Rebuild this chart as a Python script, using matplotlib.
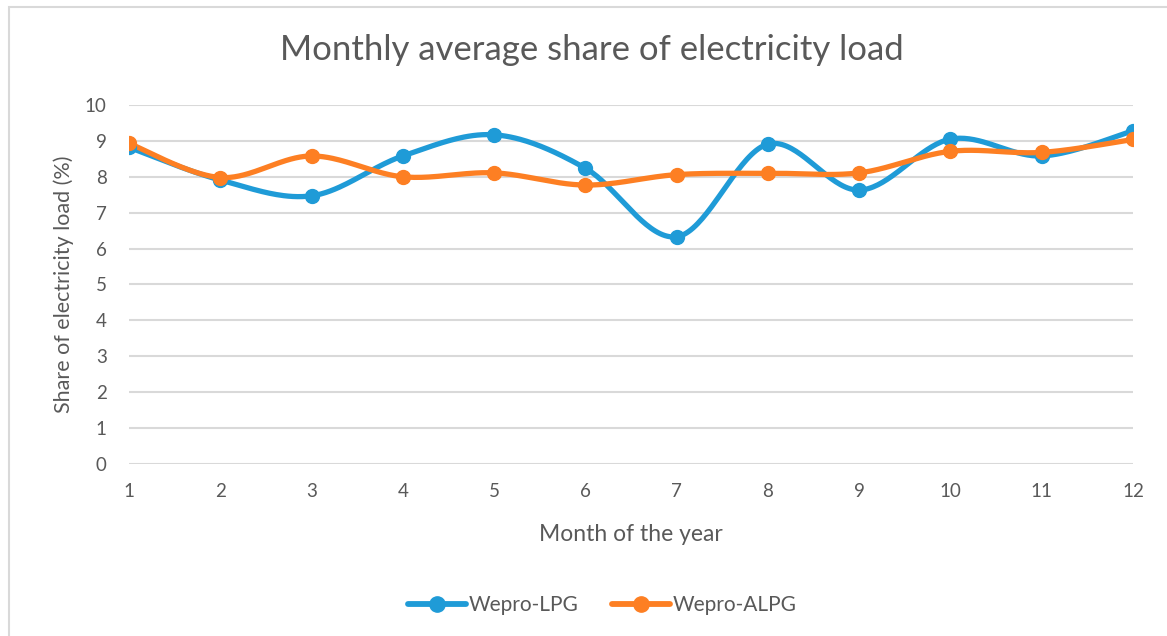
import matplotlib.pyplot as plt
from matplotlib.patches import Rectangle
import numpy as np

months = [1, 2, 3, 4, 5, 6, 7, 8, 9, 10, 11, 12]
lpg = [8.82, 7.91, 7.47, 8.58, 9.17, 8.24, 6.33, 8.91, 7.63, 9.05, 8.58, 9.28]
alpg = [8.93, 7.98, 8.58, 8.00, 8.11, 7.77, 8.06, 8.10, 8.11, 8.71, 8.68, 9.04]

BLUE = '#1f9bd7'
ORANGE = '#fd7f23'
GREY = '#595959'


def smooth(xs, ys, n=40):
    # excel style smoothed line: bezier segments with catmull-rom control points
    xs = np.asarray(xs, float)
    ys = np.asarray(ys, float)
    pts = np.column_stack([xs, ys])
    ext = np.vstack([pts[0], pts, pts[-1]])
    out = []
    t = np.linspace(0, 1, n)[:, None]
    for i in range(len(pts) - 1):
        p0 = ext[i + 1]
        p3 = ext[i + 2]
        c1 = p0 + (ext[i + 2] - ext[i]) / 6
        c2 = p3 - (ext[i + 3] - ext[i + 1]) / 6
        seg = (1 - t) ** 3 * p0 + 3 * (1 - t) ** 2 * t * c1 + 3 * (1 - t) * t ** 2 * c2 + t ** 3 * p3
        out.append(seg if i == 0 else seg[1:])
    seg = np.vstack(out)
    return seg[:, 0], seg[:, 1]


plt.rcParams['font.family'] = ['Lato', 'DejaVu Sans']

fig = plt.figure(figsize=(11.67, 6.36), dpi=100)
ax = fig.add_axes([129 / 1167, 1 - 464 / 636, (1133 - 129) / 1167, (464 - 105) / 636])

for ys, col, lab in [(lpg, BLUE, 'Wepro-LPG'), (alpg, ORANGE, 'Wepro-ALPG')]:
    sx, sy = smooth(months, ys)
    ax.plot(sx, sy, color=col, lw=3.8, solid_capstyle='round', zorder=3)
    ax.plot(months, ys, 'o', color=col, ms=10, zorder=4)
    ax.plot([], [], '-o', color=col, lw=4.2, ms=11, label=lab, solid_capstyle='round')

ax.set_xlim(1, 12)
ax.set_ylim(0, 10)
ax.set_xticks(months)
ax.set_yticks(range(0, 11))
ax.grid(axis='y', color='#d9d9d9', lw=1.5)
ax.set_axisbelow(True)
for s in ax.spines.values():
    s.set_visible(False)
ax.tick_params(length=0, colors=GREY, labelsize=13.5)
ax.tick_params(axis='x', pad=14)
ax.tick_params(axis='y', pad=16)

ax.set_xlabel('Month of the year', color=GREY, fontsize=16.5, labelpad=17)
ax.set_ylabel('Share of electricity load (%)', color=GREY, fontsize=15.5, labelpad=8)
fig.text(0.507, 1 - 50 / 636, 'Monthly average share of electricity load',
         ha='center', va='center', color=GREY, fontsize=25)

leg = fig.legend(loc='center', bbox_to_anchor=(0.516, 1 - 605 / 636), ncol=2,
                 frameon=False, fontsize=15, handlelength=2.8, columnspacing=1.6,
                 handletextpad=0.1)
for t in leg.get_texts():
    t.set_color(GREY)

fig.patches.append(Rectangle((9 / 1167, -0.1), 1.2, 1 - 7 / 636 + 0.1,
                             transform=fig.transFigure, fill=False,
                             edgecolor='#d9d9d9', lw=1.5))

fig.savefig('out.png', dpi=100)
